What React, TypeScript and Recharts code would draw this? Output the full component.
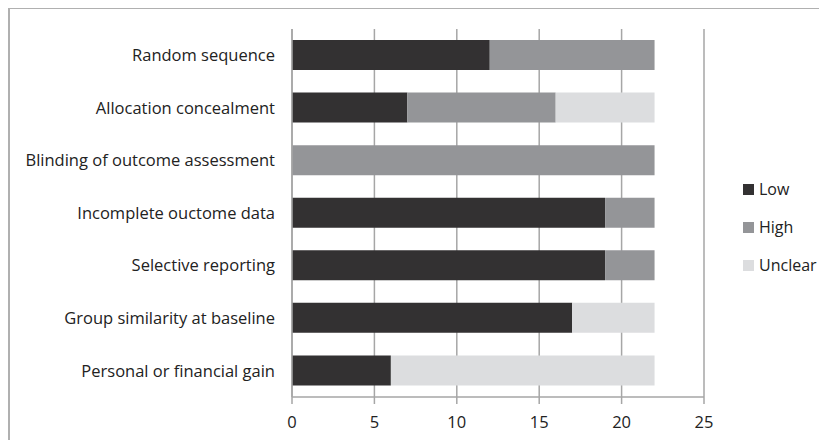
import { BarChart, Bar, XAxis, YAxis, CartesianGrid } from "recharts";

const categories = [
  "Random sequence",
  "Allocation concealment",
  "Blinding of outcome assessment",
  "Incomplete ouctome data",
  "Selective reporting",
  "Group similarity at baseline",
  "Personal or financial gain",
];
const low = [12, 7, 0, 19, 19, 17, 6];
const high = [10, 9, 22, 3, 3, 0, 0];
const unclear = [0, 6, 0, 0, 0, 5, 16];
const xTicks = [0, 5, 10, 15, 20, 25];

const series = [
  { key: "low", name: "Low", color: "#333132" },
  { key: "high", name: "High", color: "#949598" },
  { key: "unclear", name: "Unclear", color: "#dcdddf" },
];

const data = categories.map((name, i) => ({
  name,
  low: low[i],
  high: high[i],
  unclear: unclear[i],
}));

const font = "'Open Sans', sans-serif";

export default function App() {
  return (
    <div
      style={{
        position: "relative",
        width: 819,
        height: 433,
        borderTop: "2px solid #b0b0b0",
        borderLeft: "2px solid #b0b0b0",
        boxSizing: "border-box",
        marginTop: -1,
        fontFamily: font,
      }}
    >
      <BarChart
        width={817}
        height={431}
        data={data}
        layout="vertical"
        barSize={30}
        margin={{ top: 20, right: 123, bottom: 13, left: 0 }}
      >
        <CartesianGrid horizontal={false} stroke="#a6a6a6" strokeWidth={1.5} />
        <XAxis
          type="number"
          domain={[0, 25]}
          ticks={xTicks}
          interval={0}
          height={30}
          stroke="#a6a6a6"
          strokeWidth={1.5}
          tickSize={7}
          tickMargin={12}
          tick={{ fontSize: 16.5, fill: "#222", fontFamily: font }}
        />
        <YAxis
          type="category"
          dataKey="name"
          width={282}
          tickLine={false}
          stroke="#a6a6a6"
          strokeWidth={1.5}
          tickMargin={11}
          tick={{ fontSize: 16.5, fill: "#222", fontFamily: font }}
        />
        {series.map((s) => (
          <Bar
            key={s.key}
            dataKey={s.key}
            name={s.name}
            stackId="a"
            fill={s.color}
            isAnimationActive={false}
          />
        ))}
      </BarChart>
      <div style={{ position: "absolute", left: 733, top: 161, whiteSpace: "nowrap" }}>
        {series.map((s) => (
          <div
            key={s.key}
            style={{
              display: "flex",
              alignItems: "center",
              height: 38,
              fontSize: 16,
              color: "#222",
            }}
          >
            <span
              style={{
                width: 11,
                height: 11,
                background: s.color,
                marginRight: 5,
                display: "inline-block",
              }}
            />
            {s.name}
          </div>
        ))}
      </div>
    </div>
  );
}
